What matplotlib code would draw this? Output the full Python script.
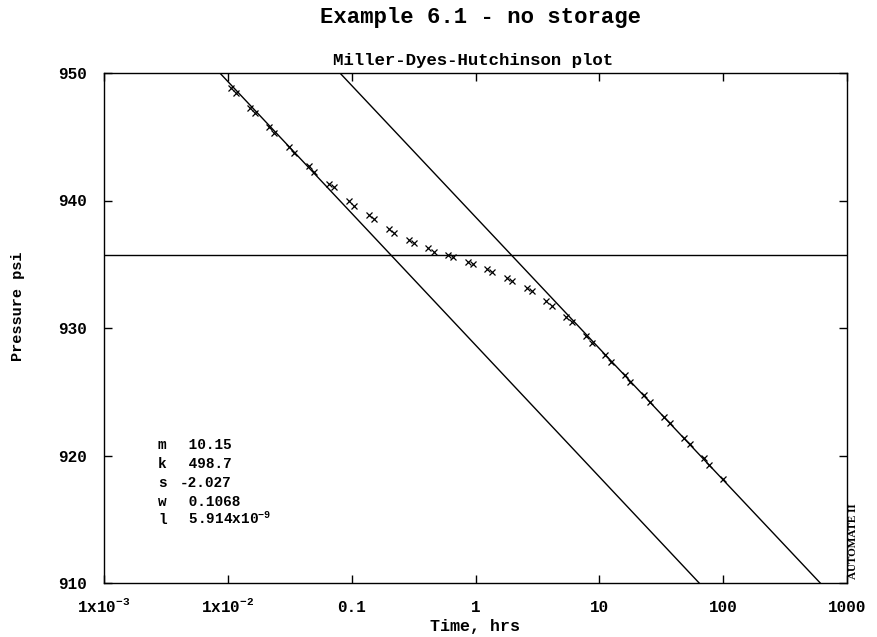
import matplotlib
matplotlib.use("Agg")
import matplotlib.pyplot as plt

# ---------------- data ----------------
time_hrs = [0.01057, 0.01160, 0.01506, 0.01653, 0.02145, 0.02353, 0.03111, 0.03414,
            0.04512, 0.04952, 0.06550, 0.07188, 0.09502, 0.1043, 0.1378, 0.1513,
            0.2000, 0.2195, 0.2902, 0.3184, 0.4132, 0.4620, 0.5995, 0.6579,
            0.8697, 0.9545, 1.238, 1.359, 1.797, 1.972, 2.608, 2.862,
            3.713, 4.151, 5.386, 6.024, 7.816, 8.739, 11.13, 12.44,
            16.15, 17.72, 22.99, 25.71, 33.37, 37.30, 48.40, 54.11,
            70.22, 77.09, 100.0]
pressure_psi = [948.82, 948.43, 947.25, 946.86, 945.76, 945.29, 944.20, 943.73,
                942.71, 942.24, 941.29, 941.06, 939.96, 939.57, 938.86, 938.55,
                937.76, 937.45, 936.90, 936.67, 936.27, 935.96, 935.73, 935.57,
                935.18, 935.02, 934.63, 934.39, 933.92, 933.69, 933.14, 932.90,
                932.12, 931.73, 930.86, 930.47, 929.37, 928.82, 927.88, 927.33,
                926.31, 925.76, 924.75, 924.20, 923.02, 922.55, 921.37, 920.90,
                919.80, 919.25, 918.16]

early_line_t = [0.00862, 63.97]
early_line_p = [950.0, 910.0]
late_line_t = [0.0804, 608.0]
late_line_p = [950.0, 910.0]
pstar_line_t = [1e-3, 1e3]
pstar_line_p = [935.7, 935.7]

x_ticks = [1e-3, 1e-2, 0.1, 1, 10, 100, 1000]
x_tick_labels = [r'1x10$^{-3}$', r'1x10$^{-2}$', '0.1', '1', '10', '100', '1000']
y_ticks = [910, 920, 930, 940, 950]
y_tick_labels = ['910', '920', '930', '940', '950']

param_names = ['m', 'k', 's', 'w', 'l']
param_values = [' 10.15', ' 498.7', '-2.027', ' 0.1068', r' 5.914x10$^{-9}$']

# ---------------- style ----------------
plt.rcParams['font.family'] = ['Liberation Mono', 'DejaVu Sans Mono']
plt.rcParams['font.weight'] = 'bold'
plt.rcParams['mathtext.default'] = 'regular'

W, H = 877, 637
fig = plt.figure(figsize=(W / 100, H / 100), dpi=100)
L, R, T, B = 104, 847, 73, 583
ax = fig.add_axes([L / W, 1 - B / H, (R - L) / W, (B - T) / H])

ax.set_xscale('log')
ax.set_xlim(1e-3, 1e3)
ax.set_ylim(910, 950)

ax.plot(early_line_t, early_line_p, color='black', lw=1.0)
ax.plot(late_line_t, late_line_p, color='black', lw=1.0)
ax.plot(pstar_line_t, pstar_line_p, color='black', lw=1.0)
ax.plot(time_hrs, pressure_psi, linestyle='none', marker='x', ms=4.5, mew=0.9,
        color='black')

ax.set_xticks(x_ticks)
ax.set_xticklabels(x_tick_labels, fontsize=11.5, fontweight='bold', va='baseline')
ax.xaxis.set_minor_locator(matplotlib.ticker.NullLocator())
ax.set_yticks(y_ticks)
ax.set_yticklabels(y_tick_labels, fontsize=11.5, fontweight='bold')
ax.tick_params(axis='both', which='major', direction='in', length=6, width=1.0,
               top=True, right=True)
ax.tick_params(axis='x', pad=21)
ax.tick_params(axis='y', pad=12)
for s in ax.spines.values():
    s.set_linewidth(1.0)

ax.set_xlabel('Time, hrs', fontsize=12, fontweight='bold')
ax.xaxis.set_label_coords(0.5, -(631 - B) / (B - T), transform=ax.transAxes)
ax.xaxis.label.set_va('baseline')
ax.set_ylabel('Pressure psi', fontsize=11, fontweight='bold')
ax.yaxis.set_label_coords(-(L - 18) / (R - L), (B - 306) / (B - T))
ax.yaxis.label.set_va('center')

fig.text(480 / W, 1 - 18 / H, 'Example 6.1 - no storage', fontsize=16,
         fontweight='bold', ha='center', va='center')
fig.text(473 / W, 1 - 60 / H, 'Miller-Dyes-Hutchinson plot', fontsize=12.5,
         fontweight='bold', ha='center', va='center')

row_y = [449, 468, 487, 506, 524]
for name, val, y in zip(param_names, param_values, row_y):
    fig.text(158 / W, 1 - y / H, name, fontsize=10.4, fontweight='bold',
             ha='left', va='baseline')
    fig.text(180 / W, 1 - y / H, val, fontsize=10.4, fontweight='bold',
             ha='left', va='baseline')

fig.text(853 / W, 1 - 541 / H, 'AUTOMATE II', rotation=90, fontsize=8,
         fontweight='bold', family=['Liberation Serif', 'DejaVu Serif'],
         ha='center', va='center')

fig.savefig('out.png', dpi=100)
